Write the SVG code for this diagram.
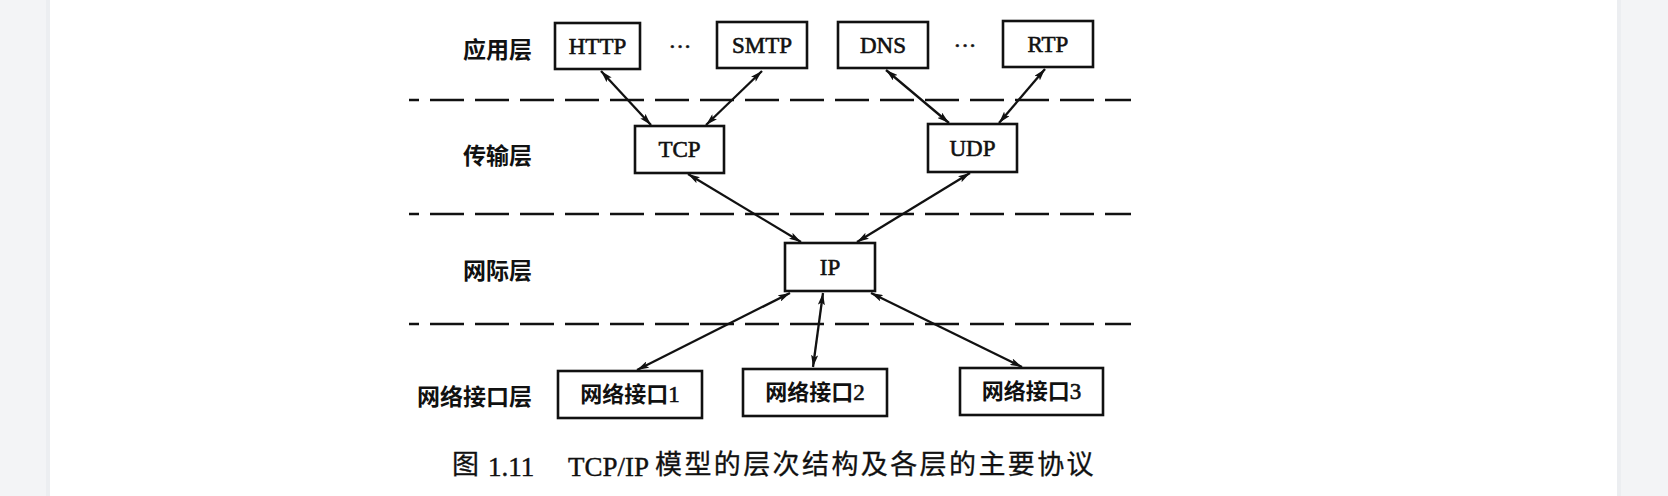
<svg xmlns="http://www.w3.org/2000/svg" width="1668" height="496" viewBox="0 0 1668 496">
  <style>
    .box { fill: #fff; stroke: #111; stroke-width: 2.6; }
    .lat { font-family: "Liberation Serif", "Times New Roman", serif; font-size: 23px; fill: #111; stroke: #111; stroke-width: 0.6; }
    .cjk { font-family: "Noto Sans CJK SC", "Noto Sans", sans-serif; font-weight: bold; font-size: 22px; fill: #111; }
    .layer { font-family: "Noto Sans CJK SC", "Noto Sans", sans-serif; font-weight: bold; font-size: 23px; fill: #111; text-anchor: end; }
    .dash { stroke: #111; stroke-width: 2.7; stroke-dasharray: 34 11; stroke-dashoffset: 24; fill: none; }
    .conn { stroke: #111; stroke-width: 2.3; fill: none; marker-start: url(#ah); marker-end: url(#ah); }
    .cap { font-family: "Noto Sans CJK SC", sans-serif; font-size: 27px; fill: #111; stroke: #111; stroke-width: 0.3; }
    .capl { font-family: "Liberation Serif", "Times New Roman", serif; font-size: 27px; fill: #111; stroke: #111; stroke-width: 0.4; }
  </style>
  <defs>
    <marker id="ah" viewBox="0 0 12 7" refX="12" refY="3.5" markerWidth="12" markerHeight="7" markerUnits="userSpaceOnUse" orient="auto-start-reverse">
      <path d="M0,0 L12,3.5 L0,7 L2.5,3.5 z" fill="#111"/>
    </marker>
  </defs>

  <!-- page background -->
  <rect x="0" y="0" width="1668" height="496" fill="#ffffff"/>
  <rect x="0" y="0" width="50" height="496" fill="#f3f4f6"/>
  <rect x="46" y="0" width="4" height="496" fill="#eceef1"/>
  <rect x="1617" y="0" width="51" height="496" fill="#f3f4f6"/>
  <rect x="1617" y="0" width="4" height="496" fill="#eceef1"/>

  <!-- layer separators -->
  <g id="separators">
    <line class="dash" x1="409" y1="100" x2="1131" y2="100"/>
    <line class="dash" x1="409" y1="214" x2="1131" y2="214"/>
    <line class="dash" x1="409" y1="324" x2="1131" y2="324"/>
  </g>

  <!-- layer labels -->
  <g id="layer-labels">
    <text class="layer" x="532" y="58">应用层</text>
    <text class="layer" x="532" y="164">传输层</text>
    <text class="layer" x="532" y="279">网际层</text>
    <text class="layer" x="532" y="405">网络接口层</text>
  </g>

  <!-- connectors -->
  <g id="connectors">
    <line class="conn" x1="601" y1="71" x2="651" y2="125"/>
    <line class="conn" x1="762" y1="71" x2="706" y2="125"/>
    <line class="conn" x1="886" y1="70" x2="949" y2="123"/>
    <line class="conn" x1="1045" y1="69" x2="999" y2="123"/>
    <line class="conn" x1="688" y1="174" x2="801" y2="242"/>
    <line class="conn" x1="970" y1="173" x2="857" y2="242"/>
    <line class="conn" x1="790" y1="293" x2="637" y2="370"/>
    <line class="conn" x1="823" y1="293" x2="813" y2="367"/>
    <line class="conn" x1="871" y1="293" x2="1022" y2="367"/>
  </g>

  <!-- application layer -->
  <g id="http">
    <rect class="box" x="555" y="23" width="85" height="46"/>
    <text class="lat" x="597.5" y="54" text-anchor="middle">HTTP</text>
  </g>
  <text class="lat" x="680" y="54" text-anchor="middle">···</text>
  <g id="smtp">
    <rect class="box" x="717" y="22" width="90" height="46"/>
    <text class="lat" x="762" y="53" text-anchor="middle">SMTP</text>
  </g>
  <g id="dns">
    <rect class="box" x="838" y="22" width="90" height="46"/>
    <text class="lat" x="883" y="53" text-anchor="middle">DNS</text>
  </g>
  <text class="lat" x="965" y="53" text-anchor="middle">···</text>
  <g id="rtp">
    <rect class="box" x="1003" y="21" width="90" height="46"/>
    <text class="lat" x="1048" y="52" text-anchor="middle">RTP</text>
  </g>

  <!-- transport layer -->
  <g id="tcp">
    <rect class="box" x="635" y="126" width="89" height="47"/>
    <text class="lat" x="679.5" y="157" text-anchor="middle">TCP</text>
  </g>
  <g id="udp">
    <rect class="box" x="928" y="124" width="89" height="48"/>
    <text class="lat" x="972.5" y="156" text-anchor="middle">UDP</text>
  </g>

  <!-- internet layer -->
  <g id="ip">
    <rect class="box" x="785" y="243" width="90" height="48"/>
    <text class="lat" x="830" y="275" text-anchor="middle">IP</text>
  </g>

  <!-- network interface layer -->
  <g id="ni1">
    <rect class="box" x="558" y="371" width="144" height="47"/>
    <text x="630" y="402" text-anchor="middle"><tspan class="cjk">网络接口</tspan><tspan class="lat">1</tspan></text>
  </g>
  <g id="ni2">
    <rect class="box" x="743" y="369" width="144" height="47"/>
    <text x="815" y="400" text-anchor="middle"><tspan class="cjk">网络接口</tspan><tspan class="lat">2</tspan></text>
  </g>
  <g id="ni3">
    <rect class="box" x="960" y="368" width="143" height="47"/>
    <text x="1031.5" y="399" text-anchor="middle"><tspan class="cjk">网络接口</tspan><tspan class="lat">3</tspan></text>
  </g>

  <!-- caption -->
  <g id="caption">
    <text class="cap" x="452" y="474">图</text>
    <text class="capl" x="488" y="476">1.11</text>
    <text class="capl" x="568" y="476">TCP/IP</text>
    <text class="cap" x="655" y="474" letter-spacing="2.4">模型的层次结构及各层的主要协议</text>
  </g>
</svg>
